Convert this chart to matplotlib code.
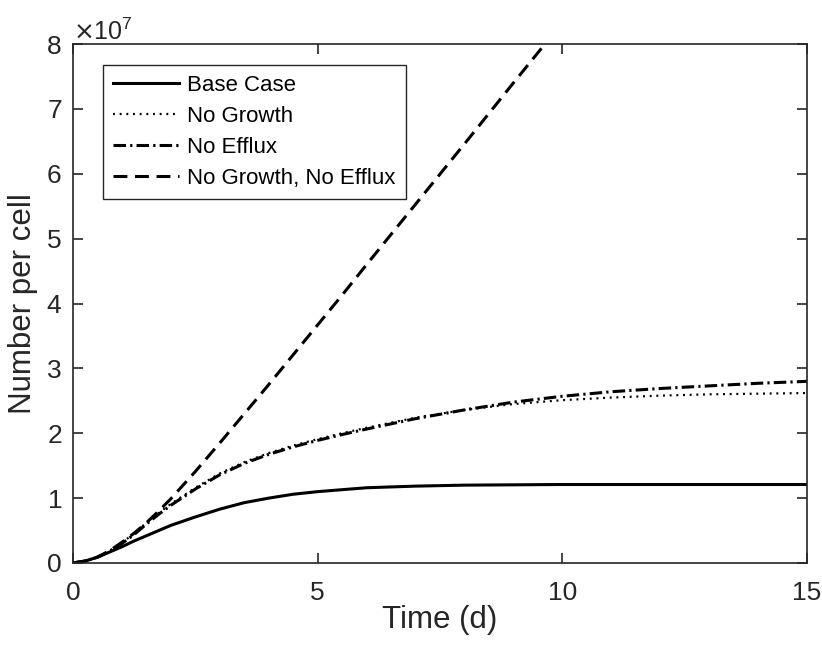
import matplotlib
matplotlib.use("Agg")
import matplotlib.pyplot as plt
from matplotlib.ticker import ScalarFormatter, FixedLocator

plt.rcParams['font.family'] = ['Liberation Sans', 'DejaVu Sans']
plt.rcParams['lines.scale_dashes'] = False

# Time (days)
time_d = [0, 0.25, 0.5, 0.75, 1, 1.25, 1.5, 1.75, 2, 2.5, 3, 3.5, 4, 4.5, 5, 5.5,
          6, 7, 8, 9, 10, 11, 12, 13, 14, 15]

# Number per cell for each scenario
base_case = [0, 0.03e7, 0.09e7, 0.17e7, 0.25e7, 0.34e7, 0.42e7, 0.50e7, 0.58e7, 0.71e7,
             0.83e7, 0.93e7, 1.00e7, 1.06e7, 1.10e7, 1.13e7, 1.16e7, 1.185e7, 1.20e7,
             1.205e7, 1.21e7, 1.21e7, 1.21e7, 1.21e7, 1.21e7, 1.21e7]
no_growth = [0, 0.03e7, 0.09e7, 0.19e7, 0.31e7, 0.46e7, 0.62e7, 0.77e7, 0.91e7, 1.16e7,
             1.38e7, 1.555e7, 1.695e7, 1.81e7, 1.91e7, 2.00e7, 2.085e7, 2.24e7, 2.36e7,
             2.45e7, 2.51e7, 2.55e7, 2.58e7, 2.60e7, 2.61e7, 2.62e7]
no_efflux = [0, 0.03e7, 0.09e7, 0.18e7, 0.30e7, 0.44e7, 0.60e7, 0.75e7, 0.89e7, 1.14e7,
             1.36e7, 1.535e7, 1.675e7, 1.79e7, 1.89e7, 1.98e7, 2.065e7, 2.225e7, 2.36e7,
             2.48e7, 2.57e7, 2.64e7, 2.69e7, 2.73e7, 2.77e7, 2.80e7]
no_growth_no_efflux = [0, 0.03e7, 0.09e7, 0.19e7, 0.32e7, 0.46e7, 0.62e7, 0.80e7, 0.99e7,
                       1.41e7, 1.85e7, 2.30e7, 2.75e7, 3.21e7, 3.67e7, 4.13e7, 4.60e7,
                       5.53e7, 6.46e7, 7.40e7, 8.33e7, 9.26e7, 10.2e7, 11.1e7, 12.05e7, 13.0e7]

labels = ['Base Case', 'No Growth', 'No Efflux', 'No Growth, No Efflux']
x_ticks = [0, 5, 10, 15]
y_ticks = [0, 1e7, 2e7, 3e7, 4e7, 5e7, 6e7, 7e7, 8e7]

axis_color = '#262626'

fig = plt.figure(figsize=(8.22, 6.48), dpi=100)
ax = fig.add_axes([73 / 822, 1 - 563 / 648, (807 - 73) / 822, (563 - 44) / 648])

ax.plot(time_d, base_case, color='black', lw=2.2, linestyle='-', label=labels[0])
ax.plot(time_d, no_growth, color='black', lw=1.6, linestyle=(0, (1.4, 3.4)), label=labels[1])
ax.plot(time_d, no_efflux, color='black', lw=2.2, linestyle=(0, (9, 3, 1.6, 3)), label=labels[2])
ax.plot(time_d, no_growth_no_efflux, color='black', lw=2.2, linestyle=(0, (10, 5.5)), label=labels[3])

ax.set_xlim(0, 15)
ax.set_ylim(0, 8e7)
ax.xaxis.set_major_locator(FixedLocator(x_ticks))
ax.yaxis.set_major_locator(FixedLocator(y_ticks))

fmt = ScalarFormatter(useMathText=True)
fmt.set_powerlimits((0, 0))
ax.yaxis.set_major_formatter(fmt)
ax.yaxis.get_offset_text().set_fontsize(18)
ax.yaxis.get_offset_text().set_color(axis_color)

for side in ax.spines.values():
    side.set_color(axis_color)
    side.set_linewidth(1.2)

ax.tick_params(axis='both', which='major', direction='in', length=7, width=1.2,
               color=axis_color, labelcolor=axis_color, labelsize=19,
               top=True, right=True)
ax.tick_params(axis='x', pad=13)
ax.tick_params(axis='y', pad=8)

ax.set_xlabel('Time (d)', fontsize=22.5, color=axis_color, va='center')
ax.set_ylabel('Number per cell', fontsize=22.5, color=axis_color, va='center')
ax.xaxis.set_label_coords(0.5, (563 - 620) / 519)
ax.yaxis.set_label_coords((23 - 73) / 734, 0.5)

leg = ax.legend(loc='upper left', bbox_to_anchor=(103 / 822, 1 - 65 / 648),
                bbox_transform=fig.transFigure, borderaxespad=0, fontsize=16,
                handlelength=2.95, handletextpad=0.4, labelspacing=0.45,
                borderpad=0.45, fancybox=False, framealpha=1)
leg.get_frame().set_edgecolor(axis_color)
leg.get_frame().set_linewidth(1.0)
for t in leg.get_texts():
    t.set_color('black')

fig.savefig('out.png', dpi=100)
